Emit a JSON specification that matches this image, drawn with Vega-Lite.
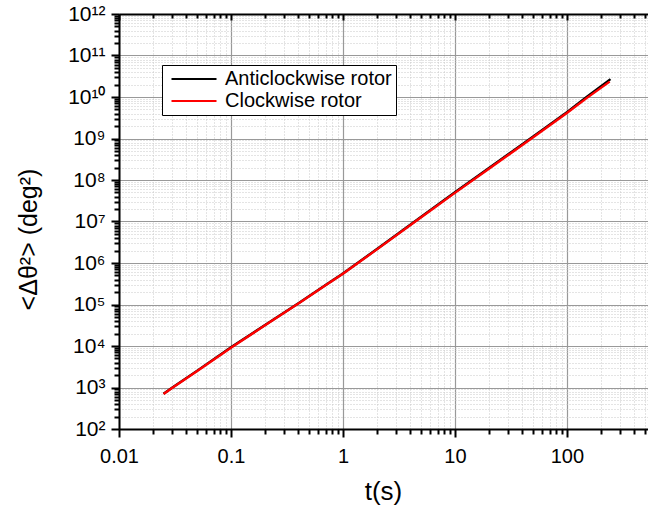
{
  "$schema": "https://vega.github.io/schema/vega-lite/v6.json",
  "width": 529,
  "height": 415,
  "autosize": {"type": "none"},
  "padding": {"left": 119, "top": 14, "right": 0, "bottom": 81},
  "background": "white",
  "config": {
    "font": "Liberation Sans",
    "view": {"stroke": null},
    "axis": {"labelFont": "Liberation Sans", "titleFont": "Liberation Sans", "labelColor": "black", "titleColor": "black", "titleFontWeight": "normal"}
  },
  "data": {
    "values": [
      {"series": "Anticlockwise rotor", "t": 0.025, "msd": 710},
      {"series": "Anticlockwise rotor", "t": 0.03, "msd": 1000},
      {"series": "Anticlockwise rotor", "t": 0.05, "msd": 2550},
      {"series": "Anticlockwise rotor", "t": 0.1, "msd": 9300},
      {"series": "Anticlockwise rotor", "t": 0.2, "msd": 31500},
      {"series": "Anticlockwise rotor", "t": 0.41, "msd": 112000},
      {"series": "Anticlockwise rotor", "t": 0.7, "msd": 295000},
      {"series": "Anticlockwise rotor", "t": 1, "msd": 560000},
      {"series": "Anticlockwise rotor", "t": 2, "msd": 2150000},
      {"series": "Anticlockwise rotor", "t": 5, "msd": 13000000},
      {"series": "Anticlockwise rotor", "t": 10, "msd": 50500000},
      {"series": "Anticlockwise rotor", "t": 20, "msd": 192000000},
      {"series": "Anticlockwise rotor", "t": 50, "msd": 1120000000},
      {"series": "Anticlockwise rotor", "t": 100, "msd": 4300000000},
      {"series": "Anticlockwise rotor", "t": 150, "msd": 10000000000},
      {"series": "Anticlockwise rotor", "t": 245, "msd": 27000000000},
      {"series": "Clockwise rotor", "t": 0.025, "msd": 700},
      {"series": "Clockwise rotor", "t": 0.03, "msd": 980},
      {"series": "Clockwise rotor", "t": 0.05, "msd": 2500},
      {"series": "Clockwise rotor", "t": 0.1, "msd": 9100},
      {"series": "Clockwise rotor", "t": 0.2, "msd": 31000},
      {"series": "Clockwise rotor", "t": 0.41, "msd": 110000},
      {"series": "Clockwise rotor", "t": 0.7, "msd": 290000},
      {"series": "Clockwise rotor", "t": 1, "msd": 550000},
      {"series": "Clockwise rotor", "t": 2, "msd": 2100000},
      {"series": "Clockwise rotor", "t": 5, "msd": 12700000},
      {"series": "Clockwise rotor", "t": 10, "msd": 49000000},
      {"series": "Clockwise rotor", "t": 20, "msd": 185000000},
      {"series": "Clockwise rotor", "t": 50, "msd": 1070000000},
      {"series": "Clockwise rotor", "t": 100, "msd": 4100000000},
      {"series": "Clockwise rotor", "t": 150, "msd": 9400000000},
      {"series": "Clockwise rotor", "t": 241, "msd": 23500000000}
    ]
  },
  "resolve": {"axis": {"x": "independent"}},
  "layer": [
    {
      "mark": {"type": "line", "strokeWidth": 2.4, "clip": true},
      "encoding": {
        "x": {
          "field": "t", "type": "quantitative",
          "scale": {"type": "log", "domain": [0.01, 530], "nice": false},
          "axis": {
            "orient": "bottom",
            "title": "t(s)",
            "titleFontSize": 26,
            "titleX": 264,
            "titleY": 62,
            "titleAlign": "center",
            "titleBaseline": "middle",
            "values": [0.01,0.02,0.03,0.04,0.05,0.06,0.07,0.08,0.09,0.1,0.2,0.3,0.4,0.5,0.6,0.7,0.8,0.9,1,2,3,4,5,6,7,8,9,10,20,30,40,50,60,70,80,90,100,200,300,400,500],
            "labelExpr": "abs(log(datum.value)/LN10 - round(log(datum.value)/LN10)) < 0.001 ? datum.label : ''",
            "format": "~g",
            "labelFontSize": 20,
            "labelPadding": 9,
            "labelOverlap": false,
            "labelFlush": false,
            "domainColor": "black",
            "domainWidth": 2,
            "tickColor": "black",
            "tickWidth": 2,
            "tickSize": {"condition": {"test": "abs(log(datum.value)/LN10 - round(log(datum.value)/LN10)) < 0.001", "value": 8}, "value": 5},
            "grid": true,
            "gridColor": {"condition": {"test": "abs(log(datum.value)/LN10 - round(log(datum.value)/LN10)) < 0.001", "value": "#999999"}, "value": "#c8c8c8"},
            "gridDash": {"condition": {"test": "abs(log(datum.value)/LN10 - round(log(datum.value)/LN10)) < 0.001", "value": []}, "value": [1, 2]},
            "gridWidth": {"condition": {"test": "abs(log(datum.value)/LN10 - round(log(datum.value)/LN10)) < 0.001", "value": 1.2}, "value": 1}
          }
        },
        "y": {
          "field": "msd", "type": "quantitative",
          "scale": {"type": "log", "domain": [100, 1000000000000], "nice": false},
          "axis": {
            "orient": "left",
            "title": "<Δθ²> (deg²)",
            "titleFontSize": 25,
            "titleAngle": -90,
            "titleX": -91,
            "titleY": 225,
            "titleAlign": "center",
            "titleBaseline": "middle",
            "values": [100,200,300,400,500,600,700,800,900,1000,2000,3000,4000,5000,6000,7000,8000,9000,10000,20000,30000,40000,50000,60000,70000,80000,90000,100000,200000,300000,400000,500000,600000,700000,800000,900000,1000000,2000000,3000000,4000000,5000000,6000000,7000000,8000000,9000000,10000000,20000000,30000000,40000000,50000000,60000000,70000000,80000000,90000000,100000000,200000000,300000000,400000000,500000000,600000000,700000000,800000000,900000000,1000000000,2000000000,3000000000,4000000000,5000000000,6000000000,7000000000,8000000000,9000000000,10000000000,20000000000,30000000000,40000000000,50000000000,60000000000,70000000000,80000000000,90000000000,100000000000,200000000000,300000000000,400000000000,500000000000,600000000000,700000000000,800000000000,900000000000,1000000000000],
            "labelExpr": "abs(log(datum.value)/LN10 - round(log(datum.value)/LN10)) < 0.001 ? ['10²','10³','10⁴','10⁵','10⁶','10⁷','10⁸','10⁹','10¹⁰','10¹¹','10¹²'][round(log(datum.value)/LN10) - 2] : ''",
            "labelFontSize": 21,
            "labelPadding": 6,
            "labelOverlap": false,
            "labelFlush": false,
            "labelBaseline": "middle",
            "domainColor": "black",
            "domainWidth": 2,
            "tickColor": "black",
            "tickWidth": 2,
            "tickSize": {"condition": {"test": "abs(log(datum.value)/LN10 - round(log(datum.value)/LN10)) < 0.001", "value": 8}, "value": 5},
            "grid": true,
            "gridColor": {"condition": {"test": "abs(log(datum.value)/LN10 - round(log(datum.value)/LN10)) < 0.001", "value": "#999999"}, "value": "#c8c8c8"},
            "gridDash": {"condition": {"test": "abs(log(datum.value)/LN10 - round(log(datum.value)/LN10)) < 0.001", "value": []}, "value": [1, 2]},
            "gridWidth": {"condition": {"test": "abs(log(datum.value)/LN10 - round(log(datum.value)/LN10)) < 0.001", "value": 1.2}, "value": 1}
          }
        },
        "color": {
          "field": "series", "type": "nominal",
          "scale": {"domain": ["Anticlockwise rotor", "Clockwise rotor"], "range": ["#000000", "#ff0000"]},
          "legend": {
            "title": null,
            "orient": "none",
            "legendX": 43,
            "legendY": 51,
            "symbolType": "M-3,0H3",
            "symbolSize": 225,
            "symbolOffset": 18,
            "symbolStrokeWidth": 2.2,
            "labelFontSize": 20,
            "labelLimit": 400,
            "labelFont": "Liberation Sans",
            "labelColor": "black",
            "labelOffset": 21,
            "rowPadding": 2,
            "padding": 4,
            "strokeColor": "black",
            "fillColor": "white",
            "cornerRadius": 0
          }
        }
      }
    },
    {
      "mark": {"type": "line", "strokeOpacity": 0},
      "encoding": {
        "detail": {"field": "series", "type": "nominal"},
        "x": {
          "field": "t", "type": "quantitative",
          "scale": {"type": "log", "domain": [0.01, 530], "nice": false},
          "axis": {
            "orient": "top",
            "title": null,
            "labels": false,
            "grid": false,
            "values": [0.01,0.02,0.03,0.04,0.05,0.06,0.07,0.08,0.09,0.1,0.2,0.3,0.4,0.5,0.6,0.7,0.8,0.9,1,2,3,4,5,6,7,8,9,10,20,30,40,50,60,70,80,90,100,200,300,400,500],
            "domainColor": "black",
            "domainWidth": 2,
            "tickColor": "black",
            "tickWidth": 2,
            "tickSize": {"condition": {"test": "abs(log(datum.value)/LN10 - round(log(datum.value)/LN10)) < 0.001", "value": -6}, "value": -4}
          }
        },
        "y": {
          "field": "msd", "type": "quantitative",
          "scale": {"type": "log", "domain": [100, 1000000000000], "nice": false}
        }
      }
    }
  ]
}
